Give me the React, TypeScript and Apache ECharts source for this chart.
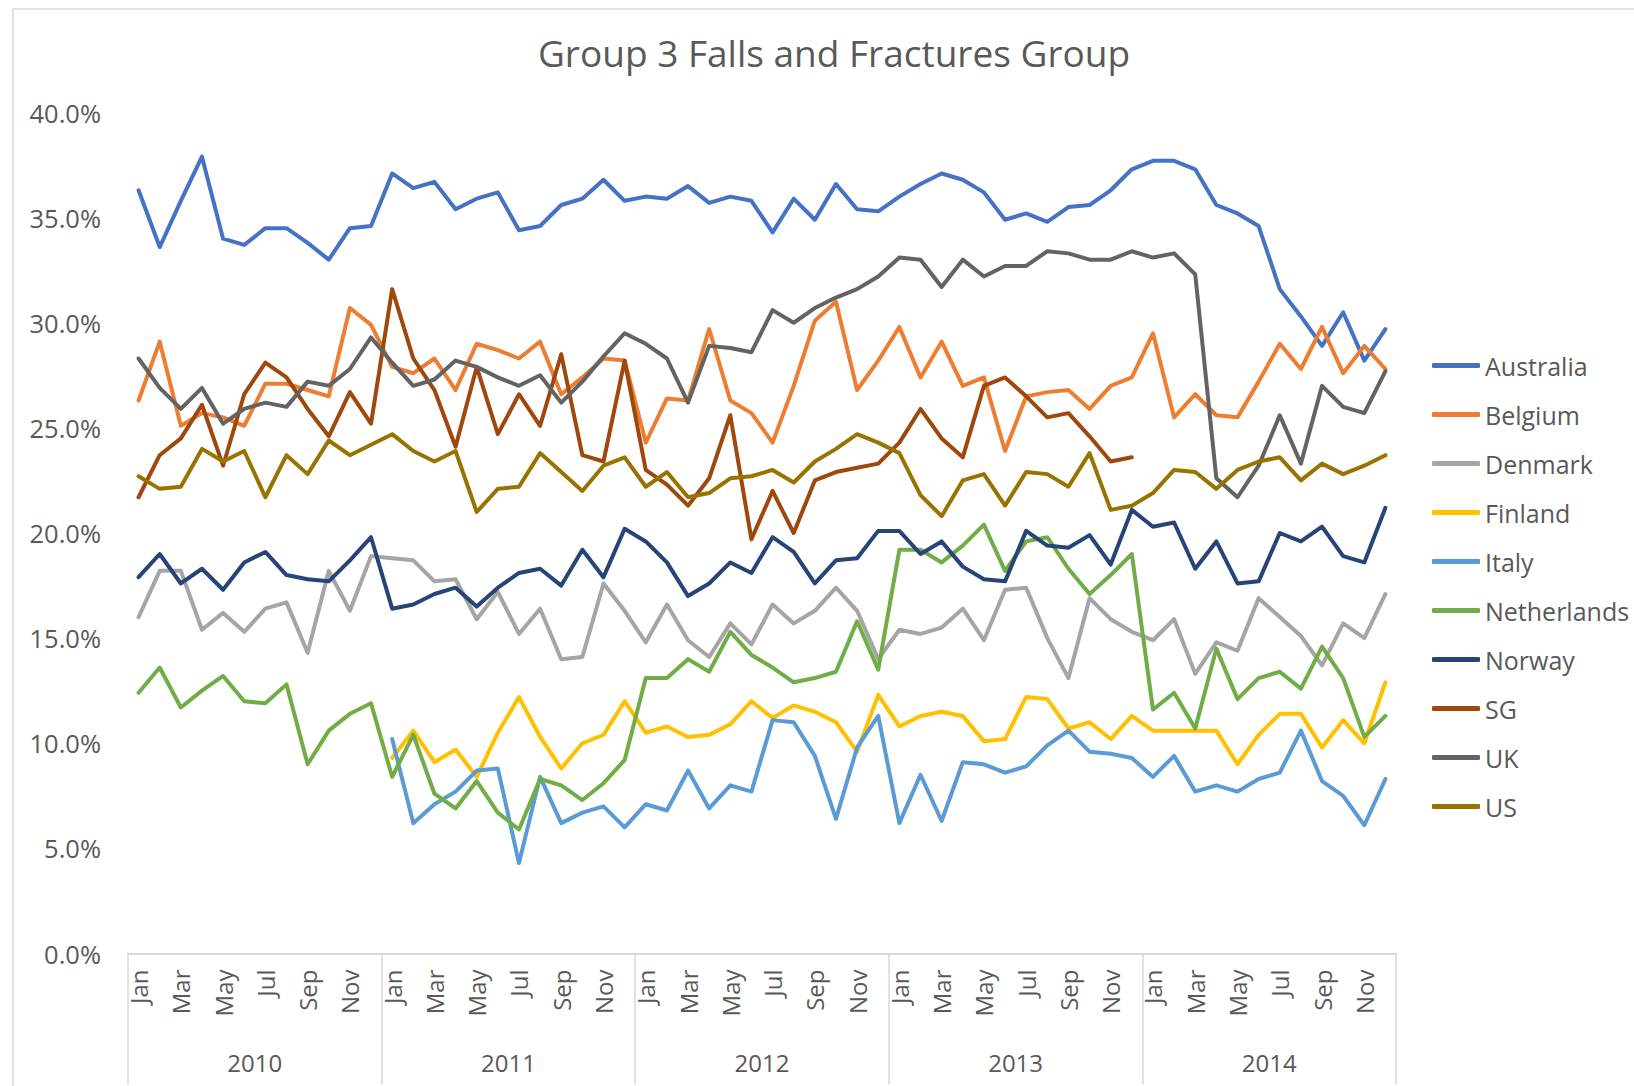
import React, { useEffect, useRef } from "react";
import * as echarts from "echarts";

const TITLE = "Group 3 Falls and Fractures Group";
const MONTHS = ["Jan", "Feb", "Mar", "Apr", "May", "Jun", "Jul", "Aug", "Sep", "Oct", "Nov", "Dec"];
const YEARS = ["2010", "2011", "2012", "2013", "2014"];
const N = null;

const australia = [
  36.3, 33.6, 35.8, 37.9, 34.0, 33.7, 34.5, 34.5, 33.8, 33.0, 34.5, 34.6,
  37.1, 36.4, 36.7, 35.4, 35.9, 36.2, 34.4, 34.6, 35.6, 35.9, 36.8, 35.8,
  36.0, 35.9, 36.5, 35.7, 36.0, 35.8, 34.3, 35.9, 34.9, 36.6, 35.4, 35.3,
  36.0, 36.6, 37.1, 36.8, 36.2, 34.9, 35.2, 34.8, 35.5, 35.6, 36.3, 37.3,
  37.7, 37.7, 37.3, 35.6, 35.2, 34.6, 31.6, 30.3, 28.9, 30.5, 28.2, 29.7,
];
const belgium = [
  26.3, 29.1, 25.1, 25.7, 25.5, 25.1, 27.1, 27.1, 26.8, 26.5, 30.7, 29.9,
  27.9, 27.6, 28.3, 26.8, 29.0, 28.7, 28.3, 29.1, 26.6, 27.4, 28.3, 28.2,
  24.3, 26.4, 26.3, 29.7, 26.3, 25.7, 24.3, 27.0, 30.1, 31.0, 26.8, 28.2,
  29.8, 27.4, 29.1, 27.0, 27.4, 23.9, 26.5, 26.7, 26.8, 25.9, 27.0, 27.4,
  29.5, 25.5, 26.6, 25.6, 25.5, 27.2, 29.0, 27.8, 29.8, 27.6, 28.9, 27.8,
];
const denmark = [
  16.0, 18.2, 18.2, 15.4, 16.2, 15.3, 16.4, 16.7, 14.3, 18.2, 16.3, 18.9,
  18.8, 18.7, 17.7, 17.8, 15.9, 17.2, 15.2, 16.4, 14.0, 14.1, 17.6, 16.3,
  14.8, 16.6, 14.9, 14.1, 15.7, 14.7, 16.6, 15.7, 16.3, 17.4, 16.3, 14.0,
  15.4, 15.2, 15.5, 16.4, 14.9, 17.3, 17.4, 15.0, 13.1, 16.9, 15.9, 15.3,
  14.9, 15.9, 13.3, 14.8, 14.4, 16.9, 16.0, 15.1, 13.7, 15.7, 15.0, 17.1,
];
const finland = [
  N, N, N, N, N, N, N, N, N, N, N, N,
  9.3, 10.6, 9.1, 9.7, 8.4, 10.5, 12.2, 10.3, 8.8, 10.0, 10.4, 12.0,
  10.5, 10.8, 10.3, 10.4, 10.9, 12.0, 11.2, 11.8, 11.5, 11.0, 9.6, 12.3,
  10.8, 11.3, 11.5, 11.3, 10.1, 10.2, 12.2, 12.1, 10.7, 11.0, 10.2, 11.3,
  10.6, 10.6, 10.6, 10.6, 9.0, 10.4, 11.4, 11.4, 9.8, 11.1, 10.0, 12.9,
];
const italy = [
  N, N, N, N, N, N, N, N, N, N, N, N,
  10.2, 6.2, 7.1, 7.7, 8.7, 8.8, 4.3, 8.4, 6.2, 6.7, 7.0, 6.0,
  7.1, 6.8, 8.7, 6.9, 8.0, 7.7, 11.1, 11.0, 9.4, 6.4, 9.8, 11.3,
  6.2, 8.5, 6.3, 9.1, 9.0, 8.6, 8.9, 9.9, 10.6, 9.6, 9.5, 9.3,
  8.4, 9.4, 7.7, 8.0, 7.7, 8.3, 8.6, 10.6, 8.2, 7.5, 6.1, 8.3,
];
const netherlands = [
  12.4, 13.6, 11.7, 12.5, 13.2, 12.0, 11.9, 12.8, 9.0, 10.6, 11.4, 11.9,
  8.4, 10.4, 7.6, 6.9, 8.2, 6.7, 5.9, 8.3, 8.0, 7.3, 8.1, 9.2,
  13.1, 13.1, 14.0, 13.4, 15.3, 14.2, 13.6, 12.9, 13.1, 13.4, 15.8, 13.5,
  19.2, 19.2, 18.6, 19.4, 20.4, 18.2, 19.6, 19.8, 18.3, 17.1, 18.0, 19.0,
  11.6, 12.4, 10.7, 14.5, 12.1, 13.1, 13.4, 12.6, 14.6, 13.1, 10.3, 11.3,
];
const norway = [
  17.9, 19.0, 17.6, 18.3, 17.3, 18.6, 19.1, 18.0, 17.8, 17.7, 18.7, 19.8,
  16.4, 16.6, 17.1, 17.4, 16.5, 17.4, 18.1, 18.3, 17.5, 19.2, 17.9, 20.2,
  19.6, 18.6, 17.0, 17.6, 18.6, 18.1, 19.8, 19.1, 17.6, 18.7, 18.8, 20.1,
  20.1, 19.0, 19.6, 18.4, 17.8, 17.7, 20.1, 19.4, 19.3, 19.9, 18.5, 21.1,
  20.3, 20.5, 18.3, 19.6, 17.6, 17.7, 20.0, 19.6, 20.3, 18.9, 18.6, 21.2,
];
const sg = [
  21.7, 23.7, 24.5, 26.1, 23.2, 26.6, 28.1, 27.4, 25.9, 24.6, 26.7, 25.2,
  31.6, 28.3, 26.8, 24.1, 27.9, 24.7, 26.6, 25.1, 28.5, 23.7, 23.4, 28.2,
  23.0, 22.3, 21.3, 22.6, 25.6, 19.7, 22.0, 20.0, 22.5, 22.9, 23.1, 23.3,
  24.3, 25.9, 24.5, 23.6, 27.0, 27.4, 26.5, 25.5, 25.7, 24.6, 23.4, 23.6,
  N, N, N, N, N, N, N, N, N, N, N, N,
];
const uk = [
  28.3, 26.9, 25.9, 26.9, 25.2, 25.9, 26.2, 26.0, 27.2, 27.0, 27.8, 29.3,
  28.1, 27.0, 27.3, 28.2, 27.9, 27.4, 27.0, 27.5, 26.2, 27.2, 28.4, 29.5,
  29.0, 28.3, 26.2, 28.9, 28.8, 28.6, 30.6, 30.0, 30.7, 31.2, 31.6, 32.2,
  33.1, 33.0, 31.7, 33.0, 32.2, 32.7, 32.7, 33.4, 33.3, 33.0, 33.0, 33.4,
  33.1, 33.3, 32.3, 22.6, 21.7, 23.2, 25.6, 23.3, 27.0, 26.0, 25.7, 27.7,
];
const us = [
  22.7, 22.1, 22.2, 24.0, 23.4, 23.9, 21.7, 23.7, 22.8, 24.4, 23.7, 24.2,
  24.7, 23.9, 23.4, 23.9, 21.0, 22.1, 22.2, 23.8, 22.9, 22.0, 23.2, 23.6,
  22.2, 22.9, 21.7, 21.9, 22.6, 22.7, 23.0, 22.4, 23.4, 24.0, 24.7, 24.3,
  23.8, 21.8, 20.8, 22.5, 22.8, 21.3, 22.9, 22.8, 22.2, 23.8, 21.1, 21.3,
  21.9, 23.0, 22.9, 22.1, 23.0, 23.4, 23.6, 22.5, 23.3, 22.8, 23.2, 23.7,
];

const SERIES = [
  { name: "Australia", data: australia, color: "#4472C4" },
  { name: "Belgium", data: belgium, color: "#ED7D31" },
  { name: "Denmark", data: denmark, color: "#A5A5A5" },
  { name: "Finland", data: finland, color: "#FFC000" },
  { name: "Italy", data: italy, color: "#5B9BD5" },
  { name: "Netherlands", data: netherlands, color: "#70AD47" },
  { name: "Norway", data: norway, color: "#264478" },
  { name: "SG", data: sg, color: "#9E480E" },
  { name: "UK", data: uk, color: "#636363" },
  { name: "US", data: us, color: "#997300" },
];

const FONT = "'Open Sans', 'Noto Sans', sans-serif";
const TEXT = "#595959";

export default function App() {
  const ref = useRef<HTMLDivElement>(null);

  useEffect(() => {
    if (!ref.current) return;
    const chart = echarts.init(ref.current, null, { renderer: "svg" });
    const monthCats: string[] = [];
    YEARS.forEach(() => MONTHS.forEach((m) => monthCats.push(m)));

    chart.setOption({
      animation: false,
      backgroundColor: "#ffffff",
      textStyle: { fontFamily: FONT },
      graphic: [
        {
          type: "rect",
          silent: true,
          shape: { x: 13, y: 9, width: 1700, height: 1200 },
          style: { fill: "none", stroke: "#d9d9d9", lineWidth: 1.5 },
        },
        {
          type: "text",
          x: 834,
          y: 52,
          style: {
            text: TITLE,
            align: "center",
            verticalAlign: "middle",
            fontSize: 37,
            fontFamily: FONT,
            fill: TEXT,
          },
        },
      ],
      grid: { left: 128, right: 238, top: 112.5, bottom: 132.5, containLabel: false },
      legend: {
        orient: "vertical",
        left: 1432,
        top: 353,
        padding: 0,
        itemWidth: 48,
        itemHeight: 5,
        itemGap: 24,
        icon: "roundRect",
        textStyle: { fontSize: 25, color: TEXT, fontFamily: FONT, lineHeight: 24.5 },
        data: SERIES.map((s) => s.name),
      },
      xAxis: [
        {
          type: "category",
          data: monthCats,
          boundaryGap: true,
          position: "bottom",
          axisLine: { show: true, lineStyle: { color: "#d9d9d9", width: 2 } },
          axisTick: { show: false },
          axisLabel: {
            interval: 1,
            rotate: 90,
            margin: 16,
            color: TEXT,
            fontSize: 24,
            fontFamily: FONT,
          },
          splitLine: { show: false },
        },
        {
          type: "category",
          data: YEARS,
          boundaryGap: true,
          position: "bottom",
          gridIndex: 0,
          axisLine: { show: false },
          axisTick: { show: true, length: 131, lineStyle: { color: "#d9d9d9", width: 1.5 } },
          axisLabel: { margin: 97, color: TEXT, fontSize: 24, fontFamily: FONT },
          splitLine: { show: false },
        },
      ],
      yAxis: {
        type: "value",
        min: 0,
        max: 40,
        interval: 5,
        axisLine: { show: false },
        axisTick: { show: false },
        splitLine: { show: false },
        axisLabel: {
          margin: 27,
          color: TEXT,
          fontSize: 25.5,
          fontFamily: FONT,
          formatter: (v: number) => v.toFixed(1) + "%",
        },
      },
      series: SERIES.map((s) => ({
        name: s.name,
        type: "line",
        data: s.data,
        xAxisIndex: 0,
        symbol: "none",
        connectNulls: false,
        color: s.color,
        lineStyle: { width: 4, color: s.color, cap: "round", join: "round" },
      })),
    });
    return () => chart.dispose();
  }, []);

  return (
    <div
      ref={ref}
      style={{ position: "fixed", left: 0, top: 0, width: 1634, height: 1086 }}
    />
  );
}
